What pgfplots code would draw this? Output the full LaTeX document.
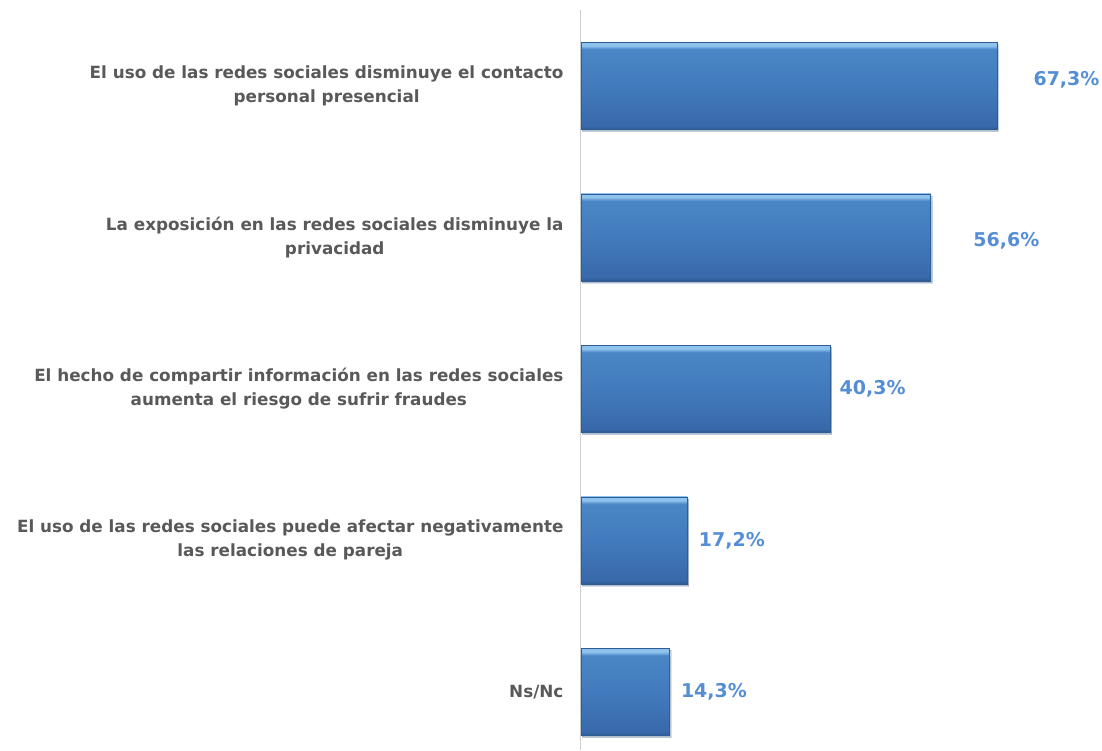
\documentclass[border=0pt]{standalone}
\usepackage{pgfplots}
\pgfplotsset{compat=1.18}
\usetikzlibrary{shadows}
\usepackage{fontspec}
\setmainfont{DejaVu Sans}
\definecolor{labgray}{HTML}{595959}
\definecolor{valblue}{HTML}{558ED5}
\definecolor{hl}{HTML}{8FC3EE}
\definecolor{bartop}{HTML}{4A86C6}
\definecolor{barmid}{HTML}{427BBD}
\definecolor{barbot}{HTML}{3869AA}
\definecolor{edgebot}{HTML}{2E5990}
\definecolor{bardraw}{HTML}{2F5E96}
\definecolor{axgray}{HTML}{D0D0D0}
\pgfdeclareverticalshading{barsh}{100bp}{
  color(0bp)=(edgebot); color(25bp)=(edgebot); color(27bp)=(barbot);
  color(50bp)=(barmid); color(71bp)=(bartop); color(73bp)=(hl);
  color(75bp)=(hl); color(100bp)=(hl)}
\pgfplotsset{barstyle/.style={shading=barsh, draw=bardraw, line width=0.6pt, bar shift=0pt,
  drop shadow={shadow xshift=1.5pt, shadow yshift=-2pt, fill=black, opacity=0.18}}}
\begin{document}
\begin{tikzpicture}
\useasboundingbox (-581pt,0pt) rectangle (521pt,750pt);
\begin{axis}[
  at={(0pt,0pt)}, anchor=south west,
  scale only axis,
  width=494.4pt, height=740pt,
  xmin=0, xmax=80,
  ymin=-0.383, ymax=4.5,
  xbar, bar width=87pt,
  hide x axis,
  axis y line*=left,
  y axis line style={draw=axgray, line width=1pt},
  ytick={0,1,2,3,4},
  major tick length=0pt,
  yticklabels={
    {Ns/Nc},
    {El uso de las redes sociales puede afectar negativamente\\las relaciones de pareja},
    {El hecho de compartir información en las redes sociales\\aumenta el riesgo de sufrir fraudes},
    {La exposición en las redes sociales disminuye la\\privacidad},
    {El uso de las redes sociales disminuye el contacto\\personal presencial}},
  yticklabel style={align=center, font=\fontsize{16.8}{24}\selectfont\bfseries, text=labgray, xshift=-14pt},
  nodes near coords={\pgfmathprintnumber[fixed, fixed zerofill, precision=1, use comma, assume math mode=true]{\pgfplotspointmeta}\%},
  point meta=x,
  nodes near coords style={anchor=west, font=\fontsize{19}{22}\selectfont\bfseries, text=valblue},
  clip=false,
]
\addplot[barstyle, nodes near coords style={xshift=8pt}] coordinates {(14.3,0)};
\addplot[barstyle, nodes near coords style={xshift=8pt}] coordinates {(17.2,1)};
\addplot[barstyle, nodes near coords style={xshift=6pt}] coordinates {(40.3,2)};
\addplot[barstyle, nodes near coords style={xshift=39pt, yshift=-3pt}] coordinates {(56.6,3)};
\addplot[barstyle, nodes near coords style={xshift=33pt, yshift=6pt}] coordinates {(67.3,4)};
\end{axis}
\end{tikzpicture}
\end{document}
